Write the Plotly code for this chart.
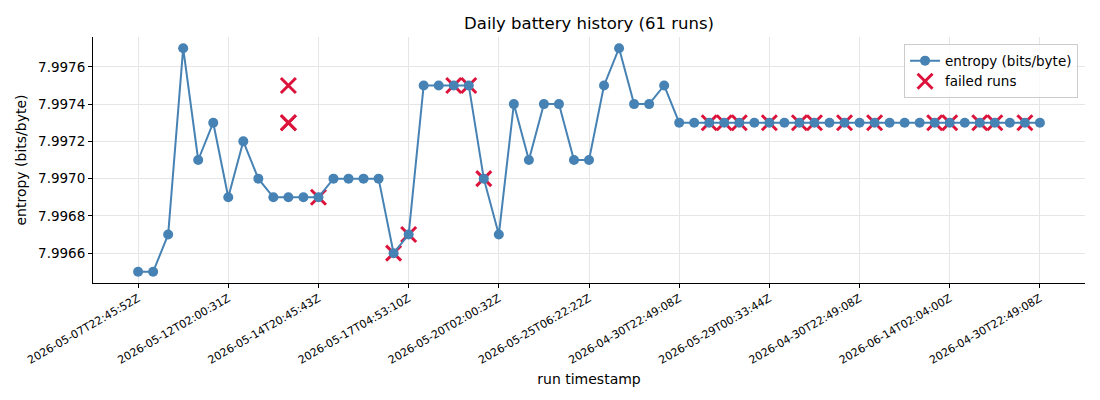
import plotly.graph_objects as go

run_index = list(range(61))
entropy = [7.9965, 7.9965, 7.9967, 7.9977, 7.9971, 7.9973, 7.9969, 7.9972, 7.9970, 7.9969,
           7.9969, 7.9969, 7.9969, 7.9970, 7.9970, 7.9970, 7.9970, 7.9966, 7.9967, 7.9975,
           7.9975, 7.9975, 7.9975, 7.9970, 7.9967, 7.9974, 7.9971, 7.9974, 7.9974, 7.9971,
           7.9971, 7.9975, 7.9977, 7.9974, 7.9974, 7.9975] + [7.9973] * 25

failed_index = [10, 10, 10, 12, 17, 18, 21, 22, 23, 38, 39, 40, 42, 44, 45, 47, 49, 53, 54, 56, 57, 59]
failed_entropy = [7.9975, 7.9973, 7.9973, 7.9969, 7.9966, 7.9967, 7.9975, 7.9975, 7.9970,
                  7.9973, 7.9973, 7.9973, 7.9973, 7.9973, 7.9973, 7.9973, 7.9973, 7.9973,
                  7.9973, 7.9973, 7.9973, 7.9973]

tick_positions = [0, 6, 12, 18, 24, 30, 36, 42, 48, 54, 60]
tick_labels = ["2026-05-07T22:45:52Z", "2026-05-12T02:00:31Z", "2026-05-14T20:45:43Z",
               "2026-05-17T04:53:10Z", "2026-05-20T02:00:32Z", "2026-05-25T06:22:22Z",
               "2026-04-30T22:49:08Z", "2026-05-29T00:33:44Z", "2026-04-30T22:49:08Z",
               "2026-06-14T02:04:00Z", "2026-04-30T22:49:08Z"]
y_ticks = [7.9966, 7.9968, 7.9970, 7.9972, 7.9974, 7.9976]

fig = go.Figure()
fig.add_trace(go.Scatter(
    x=failed_index, y=failed_entropy, mode="markers", name="failed runs",
    marker=dict(symbol="x-thin", size=15, line=dict(width=3, color="#dc143c"), color="#dc143c"),
    legendrank=2,
))
fig.add_trace(go.Scatter(
    x=run_index, y=entropy, mode="lines+markers", name="entropy (bits/byte)",
    line=dict(color="#4682b4", width=2),
    marker=dict(symbol="circle", size=10, color="#4682b4"),
    legendrank=1,
))

axis_common = dict(
    showgrid=True, gridcolor="#e6e6e6", gridwidth=1,
    showline=True, linecolor="black", linewidth=1,
    ticks="outside", ticklen=4, tickcolor="black", zeroline=False, mirror=False,
    automargin=False,
)
fig.update_layout(
    width=1100, height=400,
    margin=dict(l=85, r=23, t=29, b=125),
    paper_bgcolor="white", plot_bgcolor="white",
    font=dict(family="DejaVu Sans", color="black", size=12),
    title=dict(text="Daily battery history (61 runs)", x=0.5, xanchor="center",
               xref="paper", y=1 - 15 / 400, yref="container", yanchor="middle",
               font=dict(size=16.5), automargin=False),
    showlegend=True,
    legend=dict(x=0.993, y=0.97, xanchor="right", yanchor="top",
                bordercolor="#cccccc", borderwidth=1, bgcolor="rgba(255,255,255,0.8)",
                font=dict(size=13.5), tracegroupgap=0),
    xaxis=dict(range=[-3, 63], tickvals=tick_positions, ticktext=tick_labels,
               tickangle=-30, tickfont=dict(size=11),
               title=dict(text="run timestamp", font=dict(size=14), standoff=8),
               **axis_common),
    yaxis=dict(range=[7.99644, 7.99776], tickvals=y_ticks, tickformat=".4f",
               tickfont=dict(size=13.5),
               title=dict(text="entropy (bits/byte)", font=dict(size=14), standoff=8),
               **axis_common),
)
fig.write_html("out.html")
